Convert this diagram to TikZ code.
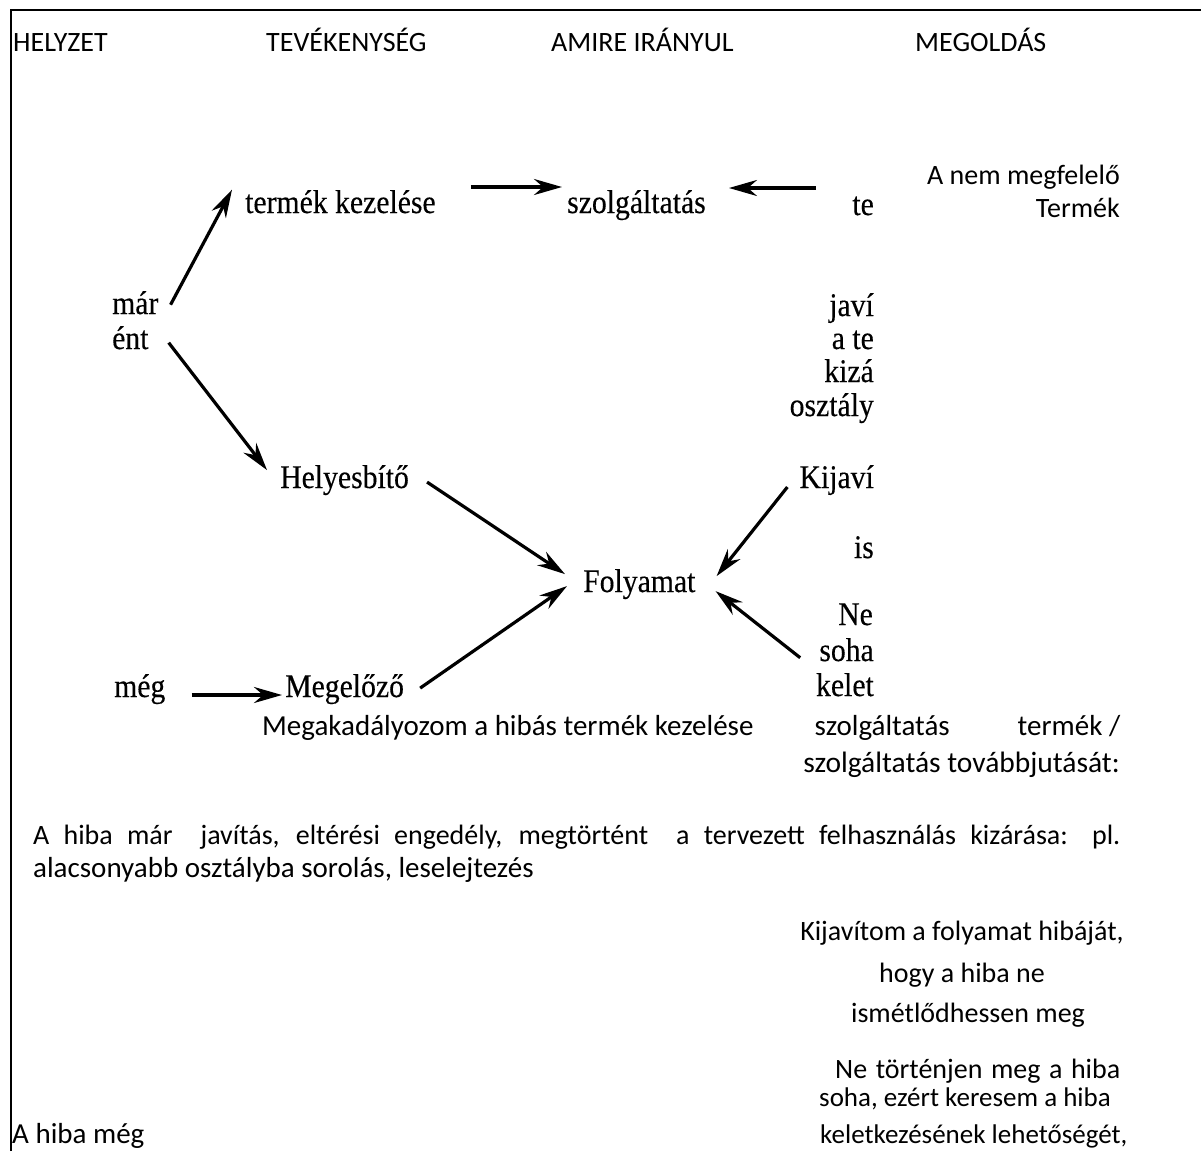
\documentclass[tikz,border=0pt]{standalone}
\usepackage{fontspec}
\setmainfont{Carlito}
\newfontfamily\scanfont[FakeStretch=0.9,FakeBold=0.3]{Liberation Serif}
\usetikzlibrary{arrows.meta}

\tikzset{
	calib/.style={inner sep=0pt, font=\fontsize{28}{34}\selectfont},
	scan/.style={inner sep=0pt, font=\scanfont\fontsize{33}{36}\selectfont},
	arr/.style={line width=3.2pt, -{Stealth[length=28pt,width=16pt]}},
}

\begin{document}
\begin{tikzpicture}[x=1pt,y=-1pt]
	\useasboundingbox (0,0) rectangle (1201,1151);
	\draw[line width=1.4pt] (11,1151) -- (11,10) -- (1201,10);
	% headers
		\node[calib,anchor=base west] (helyzet) at (13,51) {HELYZET};
		\node[calib,anchor=base west] (tevek) at (266,51) {TEVÉKENYSÉG};
		\node[calib,anchor=base west] (amire) at (551,51) {AMIRE IRÁNYUL};
		\node[calib,anchor=base west] (megold) at (915,51) {MEGOLDÁS};
		\node[calib,anchor=base east] (nemmegf) at (1120,184) {A nem megfelelő};
		\node[calib,anchor=base east] (termekR) at (1120,217) {Termék};
	% scanned scheme
		\node[scan,anchor=base west] (termek) at (245,213) {termék kezelése};
		\node[scan,anchor=base west] (szolg) at (567,213) {szolgáltatás};
		\node[scan,anchor=base east] (te) at (874,215) {te};
		\node[scan,anchor=base west] (mar) at (112,314) {már};
		\node[scan,anchor=base west] (ent) at (112,349) {ént};
		\node[scan,anchor=base east] (javi) at (874,316) {javí};
		\node[scan,anchor=base east] (ate) at (874,349) {a te};
		\node[scan,anchor=base east] (kiza) at (874,382) {kizá};
		\node[scan,anchor=base east] (osztaly) at (874,416) {osztály};
		\node[scan,anchor=base west] (helyes) at (280,488) {Helyesbítő};
		\node[scan,anchor=base east] (kijavi) at (874,488) {Kijaví};
		\node[scan,anchor=base east] (is) at (874,558) {is};
		\node[scan,anchor=base west] (folyamat) at (583,592) {Folyamat};
		\node[scan,anchor=base west] (ne) at (838,625) {Ne};
		\node[scan,anchor=base east] (soha) at (874,661) {soha};
		\node[scan,anchor=base east] (kelet) at (874,696) {kelet};
		\node[scan,anchor=base west] (meg) at (114,697) {még};
		\node[scan,anchor=base west] (megelozo) at (285,697) {Megelőző};
		\draw[arr] ([shift={(12,2)}]mar.east) -- ([shift={(-13,-12)}]termek.west);
		\draw[arr] ([shift={(20,5)}]ent.east) -- ([shift={(-13,-10)}]helyes.west);
		\draw[arr] ([shift={(35,-26)}]termek.base east) -- ([shift={(-5,-26)}]szolg.base west);
		\draw[arr] ([shift={(-36,-27)}]te.base west) -- ([shift={(23,-25)}]szolg.base east);
		\draw[arr] ([shift={(18,2)}]helyes.east) -- ([shift={(-18,-10)}]folyamat.west);
		\draw[arr] ([shift={(16,-1)}]megelozo.east) -- ([shift={(-16,2)}]folyamat.west);
		\draw[arr] ([shift={(26,-2)}]meg.base east) -- ([shift={(-3,-2)}]megelozo.base west);
		\draw[arr] ([shift={(-12,7)}]kijavi.west) -- ([shift={(21,-8)}]folyamat.east);
		\draw[arr] ([shift={(-19,8)}]soha.west) -- ([shift={(20,7)}]folyamat.east);
	% text below
		\node[calib,anchor=base west,font=\fontsize{29}{34}\selectfont] (megakad) at (262,735) {\makebox[858pt][l]{Megakadályozom a hibás termék kezelése\hfill szolgáltatás\hspace{68pt}termék /}};
		\node[calib,anchor=base east,font=\fontsize{29.5}{34}\selectfont] (tovabb) at (1120,772) {szolgáltatás továbbjutását:};
		\node[calib,anchor=base west] (hibamar) at (33,844) {\makebox[1087pt][s]{A hiba már\quad javítás, eltérési engedély, megtörtént\quad a tervezett felhasználás kizárása: pl.}};
		\node[calib,anchor=base west,font=\fontsize{29}{34}\selectfont] (alacs) at (33,877) {alacsonyabb osztályba sorolás, leselejtezés};
		\node[calib,anchor=base] (kijav1) at (962,940) {Kijavítom a folyamat hibáját,};
		\node[calib,anchor=base] (kijav2) at (962,982) {hogy a hiba ne};
		\node[calib,anchor=base] (kijav3) at (968,1022) {ismétlődhessen meg};
		\node[calib,anchor=base west] (ne1) at (835,1078) {\makebox[285pt][s]{Ne történjen meg a hiba}};
		\node[calib,anchor=base west,font=\fontsize{27}{34}\selectfont] (ne2) at (819,1106) {soha, ezért keresem a hiba};
		\node[calib,anchor=base west,font=\fontsize{27}{34}\selectfont] (ne3) at (820,1143) {keletkezésének lehetőségét,};
		\node[calib,anchor=base west,font=\fontsize{29}{34}\selectfont] (hibameg) at (12,1143) {A hiba még};
\end{tikzpicture}
\end{document}
